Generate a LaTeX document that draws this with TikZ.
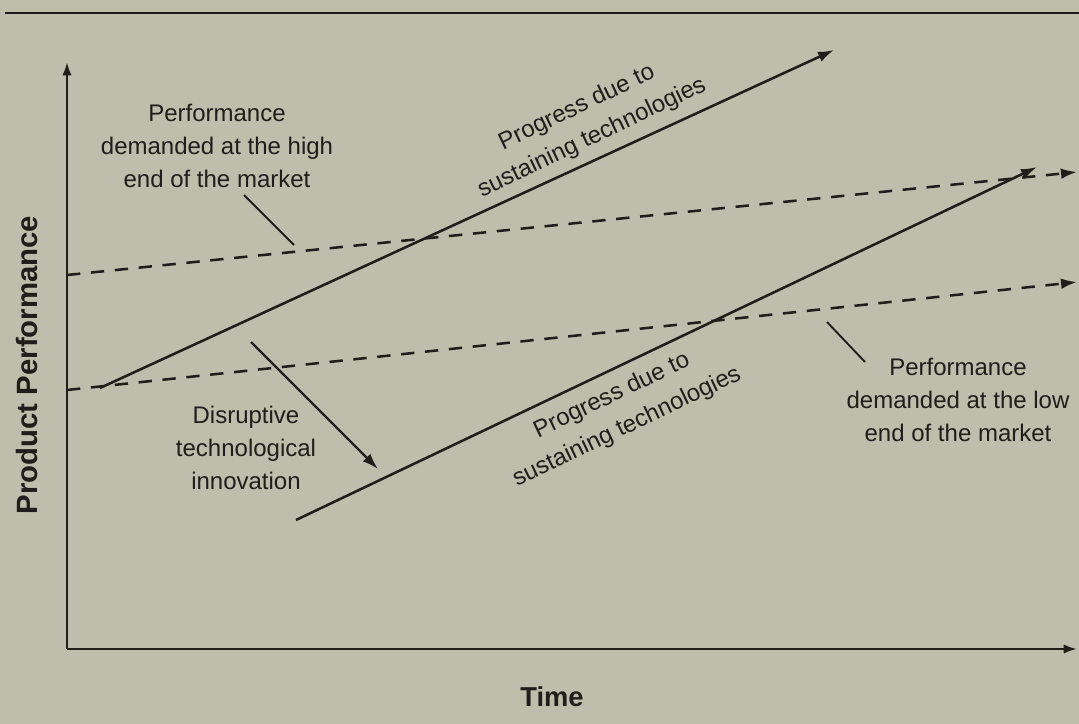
\documentclass[tikz,border=0pt]{standalone}
\usepackage{fontspec}
\setmainfont{Liberation Sans}
\usetikzlibrary{arrows.meta}
\definecolor{paper}{RGB}{189,190,172}
\definecolor{ink}{RGB}{30,30,26}
\begin{document}
\begin{tikzpicture}[x=0.75pt,y=-0.75pt,
  line/.style={draw=ink,line width=1.9pt},
  tip/.style={-{Latex[length=12pt,width=8pt]}},
  smalltip/.style={-{Latex[length=10pt,width=7pt]}},
  dashln/.style={line,dash pattern=on 10pt off 8pt},
  lbl/.style={text=ink,font=\fontsize{18}{24.5}\selectfont,align=center,inner sep=0pt},
  axlbl/.style={text=ink,font=\fontsize{22}{26}\selectfont\bfseries,inner sep=0pt},
  leader/.style={draw=ink,line width=1.4pt}]
\fill[paper] (0,0) rectangle (1079,724);
\useasboundingbox (0,0) rectangle (1079,724);
% top rule
\draw[draw=ink,line width=2.2pt] (5,13) -- (1079,13);
% coordinates
\coordinate (o) at (67,649);
\coordinate (ytop) at (67,62);
\coordinate (xend) at (1077,649);
\coordinate (h0) at (67,275);
\coordinate (h1) at (1077,172);
\coordinate (l0) at (67,390);
\coordinate (l1) at (1077,282);
\coordinate (s0) at (100,388);
\coordinate (s1) at (834,50);
\coordinate (t0) at (296,520);
\coordinate (t1) at (1037,167);
\coordinate (d0) at (251,342);
\coordinate (d1) at (378,469);
\coordinate (hl0) at (244,195);
\coordinate (hl1) at (294,245);
\coordinate (ll0) at (827,322);
\coordinate (ll1) at (865,362);
% axes
\draw[line,smalltip] (o) -- (ytop);
\draw[line,smalltip] (o) -- (xend);
% demand lines
\draw[dashln,tip] (h0) -- (h1);
\draw[dashln,tip] (l0) -- (l1);
% sustaining progress
\draw[line,tip] (s0) -- (s1);
\draw[line,tip] (t0) -- (t1);
% disruptive arrow
\draw[draw=ink,line width=1.6pt,tip] (d0) -- (d1);
% leaders
\draw[leader] (hl0) -- (hl1);
\draw[leader] (ll0) -- (ll1);
% labels
\node[lbl] (hi) at (217,146) {Performance\\demanded at the high\\end of the market};
\node[lbl] (lo) at (958,400) {Performance\\demanded at the low\\end of the market};
\node[lbl] (dis) at (246,448) {Disruptive\\technological\\innovation};
\node[lbl,rotate=25.5] (p1a) at (577,108) {Progress due to};
\node[lbl,rotate=25.5] (p1b) at (592,138) {sustaining technologies};
\node[lbl,rotate=25.5] (p2a) at (612,396) {Progress due to};
\node[lbl,rotate=25.5] (p2b) at (627,427) {sustaining technologies};
\node[axlbl,rotate=90] (yl) at (27,365) {Product Performance};
\node[axlbl,font=\fontsize{20.5}{24}\selectfont\bfseries] (tm) at (552,697) {Time};
\end{tikzpicture}
\end{document}
